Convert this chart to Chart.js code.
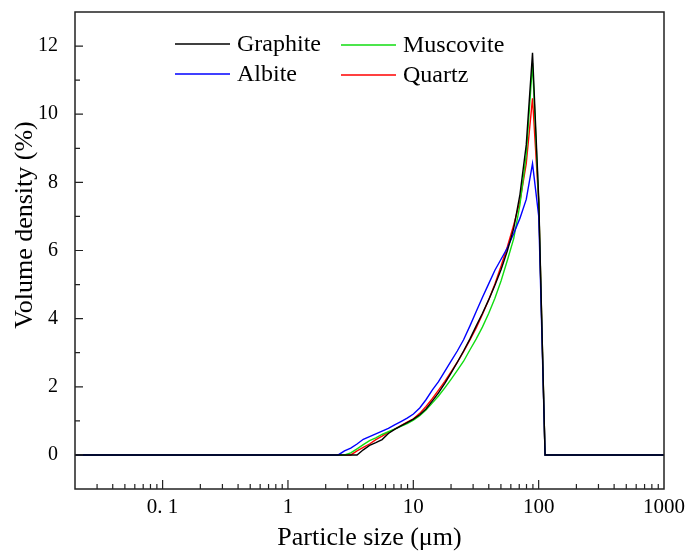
<!DOCTYPE html>
<html>
<head>
<meta charset="utf-8">
<script src="https://cdn.jsdelivr.net/npm/chart.js@4"></script>
<style>
  html, body { margin: 0; padding: 0; background: #fff; }
  #wrap { width: 686px; height: 551px; }
</style>
</head>
<body>
<div id="wrap"><canvas id="chart"></canvas></div>
<script>
// particle size bins (µm)
const sizes = [0.02, 2.518, 2.825, 3.170, 3.557, 3.991, 4.477, 5.024, 5.637, 6.325, 7.096, 7.962, 8.934,
  10.02, 11.25, 12.62, 14.16, 15.89, 17.83, 20.00, 22.44, 25.18, 28.25, 31.70, 35.57, 39.91, 44.77,
  50.24, 56.37, 63.25, 70.96, 79.62, 89.34, 100.2, 112.5, 1000];

// volume density (%)
const graphite = [0, 0, 0, 0, 0, 0.15, 0.28, 0.36, 0.45, 0.63, 0.75, 0.85, 0.95,
  1.05, 1.18, 1.35, 1.58, 1.82, 2.10, 2.40, 2.72, 3.05, 3.40, 3.78, 4.15, 4.55, 4.98,
  5.45, 6.00, 6.65, 7.65, 9.10, 11.80, 7.50, 0, 0];
const albite = [0, 0, 0.12, 0.20, 0.32, 0.46, 0.54, 0.62, 0.70, 0.78, 0.88, 0.98, 1.08,
  1.20, 1.38, 1.62, 1.90, 2.15, 2.45, 2.75, 3.05, 3.38, 3.78, 4.20, 4.62, 5.02, 5.42,
  5.75, 6.08, 6.50, 6.95, 7.50, 8.55, 7.00, 0, 0];
const muscovite = [0, 0, 0, 0.06, 0.18, 0.30, 0.42, 0.50, 0.60, 0.68, 0.76, 0.84, 0.92,
  1.02, 1.15, 1.32, 1.52, 1.73, 1.97, 2.22, 2.48, 2.75, 3.08, 3.40, 3.75, 4.15, 4.60,
  5.12, 5.72, 6.35, 7.35, 8.80, 11.50, 7.40, 0, 0];
const quartz = [0, 0, 0, 0, 0.12, 0.22, 0.32, 0.45, 0.55, 0.66, 0.76, 0.86, 0.96,
  1.06, 1.22, 1.42, 1.65, 1.90, 2.16, 2.44, 2.72, 3.03, 3.37, 3.72, 4.12, 4.55, 5.02,
  5.55, 6.12, 6.75, 7.45, 8.55, 10.47, 7.40, 0, 0];

const xTicks = [0.1, 1, 10, 100, 1000];
const xTickLabels = ['0. 1', '1', '10', '100', '1000'];
const yTicks = [0, 2, 4, 6, 8, 10, 12];

const serif = '"Liberation Serif", "Times New Roman", serif';

function points(values) {
  return sizes.map((s, i) => ({x: s, y: values[i]}));
}

const series = [
  {label: 'Graphite', data: graphite, color: '#000000'},
  {label: 'Albite', data: albite, color: '#0000ff'},
  {label: 'Muscovite', data: muscovite, color: '#11dd11'},
  {label: 'Quartz', data: quartz, color: '#ff0000'},
];

// frame, inward ticks, legend and y title
const decor = {
  id: 'decor',
  afterDraw(chart) {
    const {ctx, chartArea: a, scales: {x, y}} = chart;
    ctx.save();
    ctx.strokeStyle = '#222';
    ctx.lineWidth = 1.5;
    ctx.strokeRect(a.left, a.top, a.right - a.left, a.bottom - a.top);

    ctx.lineWidth = 1.2;
    ctx.beginPath();
    for (let e = -2; e <= 2; e++) {
      for (let m = 1; m <= 9; m++) {
        const v = m * Math.pow(10, e);
        if (v <= 0.02 || v >= 1000) continue;
        const px = x.getPixelForValue(v);
        ctx.moveTo(px, a.bottom);
        ctx.lineTo(px, a.bottom - (m === 1 ? 9 : 5));
      }
    }
    for (let v = 0; v <= 12; v++) {
      const py = y.getPixelForValue(v);
      ctx.moveTo(a.left, py);
      ctx.lineTo(a.left + (v % 2 === 0 ? 8 : 5), py);
    }
    ctx.stroke();

    // legend: [col,row] for Graphite, Albite, Muscovite, Quartz
    const cols = [175, 341];
    const rows = [44, 74];
    const place = [[0, 0], [0, 1], [1, 0], [1, 1]];
    ctx.font = '24px ' + serif;
    ctx.textBaseline = 'middle';
    ctx.fillStyle = '#000';
    series.forEach((s, i) => {
      const lx = cols[place[i][0]];
      const ly = rows[place[i][1]] + place[i][0];
      ctx.strokeStyle = s.color;
      ctx.lineWidth = 1.3;
      ctx.beginPath();
      ctx.moveTo(lx, ly);
      ctx.lineTo(lx + 55, ly);
      ctx.stroke();
      ctx.fillText(s.label, lx + 62, ly + 1);
    });

    // y title
    ctx.translate(25, 225);
    ctx.rotate(-Math.PI / 2);
    ctx.textAlign = 'center';
    ctx.font = '26px ' + serif;
    ctx.fillText('Volume density (%)', 0, 0);
    ctx.restore();
  }
};

new Chart(document.getElementById('chart'), {
  type: 'line',
  data: {
    datasets: series.map(s => ({
      label: s.label,
      data: points(s.data),
      borderColor: s.color,
      borderWidth: 1.4,
      pointRadius: 0,
      tension: 0,
      fill: false,
    })),
  },
  options: {
    responsive: true,
    maintainAspectRatio: false,
    animation: false,
    layout: {padding: {top: 12, right: 22, left: 0, bottom: 0}},
    plugins: {
      legend: {display: false},
      tooltip: {enabled: false},
    },
    scales: {
      x: {
        type: 'logarithmic',
        min: 0.02,
        max: 1000,
        afterFit(scale) {
          scale.height = 62;
          scale.paddingLeft = 0;
          scale.paddingRight = 0;
        },
        afterBuildTicks(scale) { scale.ticks = xTicks.map(v => ({value: v, major: true})); },
        grid: {display: false, drawTicks: false},
        border: {display: false},
        ticks: {
          autoSkip: false,
          maxRotation: 0,
          padding: 6,
          color: '#000',
          font: {family: serif, size: 21},
          callback: (v, i) => xTickLabels[i],
        },
        title: {
          display: true,
          text: 'Particle size (μm)',
          color: '#000',
          font: {family: serif, size: 26, lineHeight: 1},
          padding: {top: 0, bottom: 0},
        },
      },
      y: {
        type: 'linear',
        min: -1,
        max: 13,
        afterFit(scale) {
          scale.width = 75;
          scale.paddingTop = 0;
          scale.paddingBottom = 0;
        },
        afterBuildTicks(scale) { scale.ticks = yTicks.map(v => ({value: v})); },
        grid: {display: false, drawTicks: false},
        border: {display: false},
        ticks: {
          padding: 17,
          color: '#000',
          font: {family: serif, size: 20},
        },
      },
    },
  },
  plugins: [decor],
});
</script>
</body>
</html>
